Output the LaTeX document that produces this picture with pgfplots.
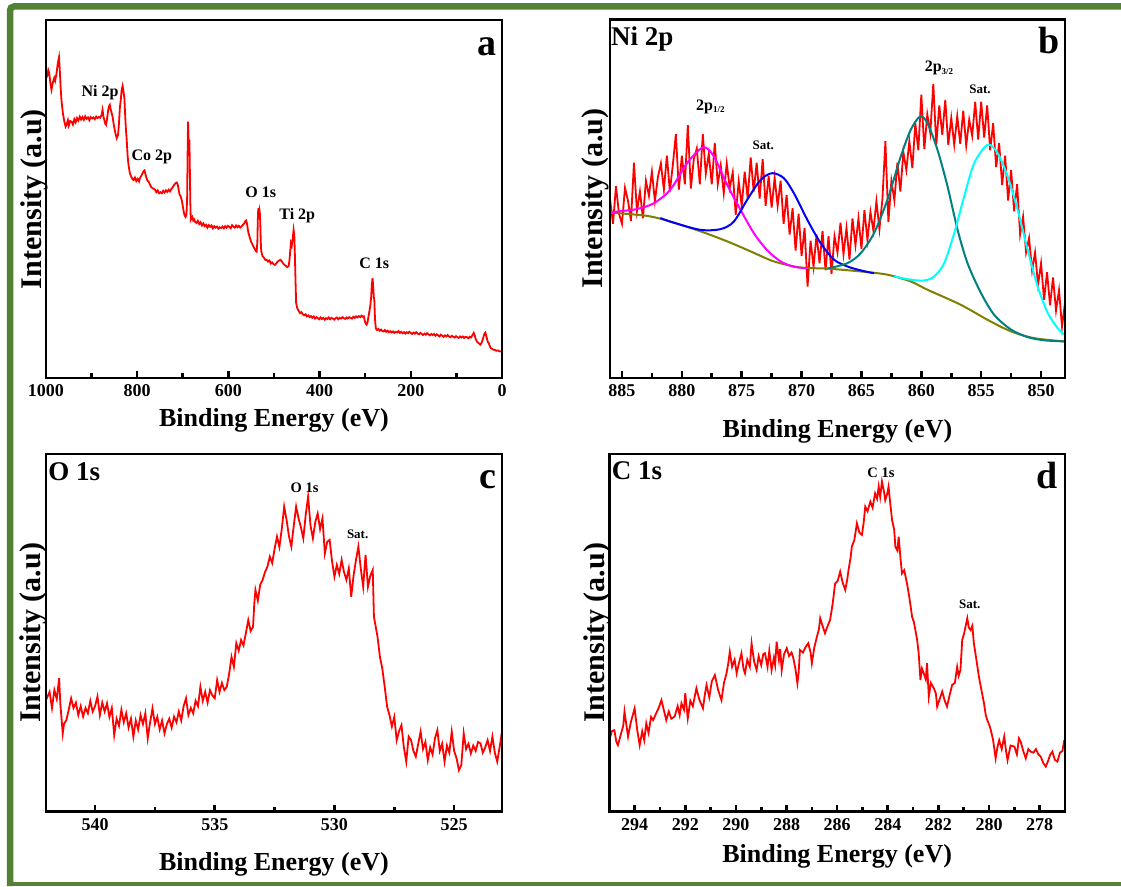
\documentclass[border=0pt]{standalone}
\usepackage{fontspec}
\setmainfont{Liberation Serif}
\usepackage{pgfplots}
\pgfplotsset{compat=1.18}
\definecolor{framegreen}{RGB}{84,130,53}
\definecolor{olivebg}{RGB}{128,128,0}
\definecolor{tealfit}{RGB}{0,128,128}
\definecolor{cyanfit}{RGB}{0,255,255}
\definecolor{magfit}{RGB}{255,0,255}
\definecolor{bluefit}{RGB}{0,0,255}
\definecolor{reddata}{RGB}{255,0,0}
\pgfplotsset{xps/.style={
  scale only axis, anchor=south west, x dir=reverse,
  ymin=0, ymax=100, ytick=\empty, xtick pos=left,
  axis line style={line width=2.7pt},
  major tick style={line width=2.6pt, black},
  minor tick style={line width=2.6pt, black},
  major tick length=7pt, minor tick length=4.5pt, tick align=inside,
  minor x tick num=1,
  xticklabel style={font=\bfseries\fontsize{18}{18}\selectfont, yshift=-3pt},
  /pgf/number format/assume math mode=true,
  /pgf/number format/1000 sep={},
  xlabel={Binding Energy (eV)}, ylabel={Intensity (a.u)},
  xlabel style={font=\bfseries\fontsize{26}{26}\selectfont, anchor=base},
  ylabel style={font=\bfseries\fontsize{30}{30}\selectfont, anchor=base},
  after end axis/.code={\draw[line width=2.7pt, black] (rel axis cs:0,0) rectangle (rel axis cs:1,1);},
}}
\begin{document}
\begin{tikzpicture}
\path[use as bounding box] (0pt,0pt) rectangle (1121pt,886pt);
\draw[framegreen, line width=6.5pt, rounded corners=4pt] (1125pt,879.5pt) -- (10pt,879.5pt) -- (10pt,0pt);
\draw[framegreen, line width=4pt] (7pt,2pt) -- (1125pt,2pt);

% ---------------- panel a
\begin{axis}[xps, at={(46pt,508pt)}, width=456pt, height=358pt, xmin=0, xmax=1000,
  xtick={0,200,...,1000},
  xlabel style={at={(axis description cs:0.5,-0.136)}},
  ylabel style={at={(axis description cs:-0.010,0.5)}}]
\addplot[reddata, no marks, line width=1.8pt] coordinates {
(1000,83.7)(997,84.5)(995,86.0)(993,85.2)(990,82.0)(988,80.5)(985,82.5)(982,83.8)(980,83.0)(977,85.0)(974,88.0)(971.5,89.6)(969.5,85.5)(968,81.4)(966,77.5)(963,74.0)(960,71.8)(957,70.2)(955,70.7)(952,72.0)(950,70.5)(947,71.8)(944,71.6)(941,70.8)(938,72.3)(935,71.4)(932,72.6)(929,71.9)(926,73.0)(923,72.2)(920,72.9)(917,72.1)(914,73.1)(911,72.4)(908,72.8)(905,72.0)(902,72.9)(899,72.5)(896,72.8)(893,72.3)(890,73.0)(887,72.6)(884,72.9)(881,72.7)(878,73.5)(876,74.9)(874,73.0)(872,72.0)(870,71.0)(868,70.7)(866,72.5)(864,74.5)(862,75.8)(860,76.3)(858,75.0)(856,74.0)(854,73.0)(851,70.5)(848,68.5)(845,67.0)(842,67.9)(840,71.0)(838,75.5)(836,77.7)(834,80.5)(832,81.6)(830,80.0)(828,78.0)(827,75.0)(825,70.0)(823,66.5)(821,62.0)(819,59.5)(816,57.2)(813,56.2)(810,55.5)(808,55.3)(805,56.0)(802,55.0)(799,55.6)(796,54.9)(794,55.8)(791,56.5)(788,57.2)(786,57.8)(784,58.0)(782,57.0)(780,56.0)(777,55.0)(775,54.9)(772,54.0)(769,53.3)(766,53.0)(763,52.8)(761,52.6)(758,51.9)(755,52.4)(752,51.6)(749,51.9)(746,51.6)(743,52.3)(740,51.8)(737,52.4)(734,52.0)(731,52.6)(728,52.1)(725,52.8)(722,53.3)(719,53.9)(716,54.4)(713,54.6)(711,54.0)(709,52.5)(707,51.2)(704.5,50.7)(702,49.5)(700,48.0)(698,46.5)(696,45.4)(694,45.0)(692,45.6)(690.5,50.0)(689.5,62.0)(688.5,71.6)(687.5,68.0)(686.5,63.0)(685.5,66.5)(684.5,58.0)(683.5,49.0)(682.5,44.2)(681,44.6)(679,45.0)(677,44.0)(675,44.3)(673,43.6)(670,43.3)(667,43.9)(664,43.0)(661,43.5)(658,42.6)(655,43.2)(652,42.4)(649,42.8)(646,42.0)(643,42.7)(640,42.2)(637,42.6)(634,41.8)(631,42.4)(628,42.0)(625,42.3)(622,41.7)(619,42.1)(616,41.9)(613,42.3)(610,41.8)(607,42.4)(604,42.0)(601,42.5)(598,42.2)(595,41.8)(592,42.7)(589,42.3)(586,42.0)(583,42.6)(580,42.1)(577,42.5)(574,42.0)(571,42.4)(568,42.8)(565,43.2)(563,43.8)(561,44.0)(559,43.0)(557,41.2)(556,40.5)(553,39.2)(550,38.0)(547,37.2)(545,36.7)(542,36.0)(540,35.5)(538,35.3)(536.5,38.0)(535.5,44.0)(534.5,47.4)(533.5,46.0)(532,47.0)(531,46.0)(530,43.0)(529,38.0)(528,35.5)(527,34.9)(525,34.0)(522,33.6)(519,33.0)(516,33.0)(513,32.5)(510,32.8)(507,32.0)(504,32.3)(501,31.8)(498,31.6)(495,32.0)(492,32.5)(489,32.8)(486,33.0)(483,32.6)(480,32.0)(477,31.6)(474,31.3)(471,31.0)(468,31.2)(466,33.0)(464,36.0)(463,37.7)(461,37.0)(459,39.0)(457,41.4)(455.5,40.0)(454.3,34.9)(453,28.0)(452,23.5)(451.4,20.9)(449,19.5)(446,18.8)(443,18.1)(440,18.4)(437,17.8)(434,17.5)(431,17.8)(428,17.2)(425,17.5)(422,17.0)(419,17.3)(416,16.8)(413,17.2)(410,16.6)(407,17.0)(404,16.7)(401,16.4)(398,16.9)(395,16.5)(392,16.8)(389,16.3)(386,16.7)(383,16.5)(380,16.9)(377,16.4)(374,16.8)(371,16.6)(368,16.3)(365,16.7)(362,16.9)(359,16.4)(356,16.8)(353,16.6)(350,17.0)(347,16.7)(344,16.5)(341,16.9)(338,16.6)(335,17.0)(332,16.8)(329,16.6)(326,17.1)(323,16.8)(320,17.2)(317,16.9)(314,17.3)(311,17.0)(308,17.4)(305,17.1)(303,17.2)(301,16.0)(299,15.2)(297,14.9)(295,15.5)(293,17.0)(291,18.5)(289,20.0)(287,22.5)(285.5,26.0)(284,27.9)(283,26.5)(282,24.5)(281,22.5)(280,21.9)(279,18.0)(278,15.5)(276.5,13.8)(274,13.4)(271,13.7)(268,13.2)(265,13.5)(262,13.1)(259.7,13.0)(257,13.4)(254,12.9)(251,13.2)(248,12.8)(245,13.1)(242,12.7)(239,13.0)(236,12.6)(233,12.9)(230,12.7)(227,13.1)(224,12.6)(221,12.9)(218,12.5)(215,12.8)(212,12.4)(209,12.8)(206,12.5)(203,12.9)(200,12.6)(197,12.3)(194,12.7)(191,12.4)(188,12.8)(185,12.4)(182,12.2)(179,12.6)(176,12.3)(173,12.0)(170,12.4)(167,12.1)(164,12.5)(161,12.2)(158,11.9)(155,12.3)(152,12.0)(149,12.3)(146,11.8)(143,12.2)(140,11.9)(137,11.6)(134,12.1)(131,11.8)(128,11.5)(125,11.9)(122,11.6)(119,12.0)(116,11.6)(113,11.4)(110,11.8)(107,11.5)(104,11.3)(101,11.7)(98,11.4)(95,11.2)(92,11.6)(89,11.3)(86,11.6)(83,11.2)(80,11.5)(77,11.4)(74,11.1)(71,11.5)(68,11.3)(65,11.9)(62,12.6)(60,12.0)(58,11.0)(55,10.2)(52,9.8)(49,9.5)(47.6,9.3)(45,9.8)(42,10.8)(40,11.8)(38,12.5)(36.6,12.7)(35,12.0)(33,11.0)(31,10.0)(29.3,9.8)(27,9.0)(25,8.4)(22,8.2)(20,8.0)(18.3,7.9)(15,7.8)(12,7.6)(9,7.7)(6,7.5)(3,7.4)(0,7.4)
};
\node[font=\bfseries\fontsize{16}{16}\selectfont, anchor=base] at (axis cs:881.5,78.6) {Ni 2p};
\node[font=\bfseries\fontsize{16}{16}\selectfont, anchor=base] at (axis cs:768,60.7) {Co 2p};
\node[font=\bfseries\fontsize{16}{16}\selectfont, anchor=base] at (axis cs:529,50.5) {O 1s};
\node[font=\bfseries\fontsize{16}{16}\selectfont, anchor=base] at (axis cs:449,44.2) {Ti 2p};
\node[font=\bfseries\fontsize{16}{16}\selectfont, anchor=base] at (axis cs:280,30.7) {C 1s};
\node[font=\bfseries\fontsize{38}{38}\selectfont, anchor=base east, inner sep=0pt] at (rel axis cs:0.989,0.902) {a};
\end{axis}

% ---------------- panel b
\begin{axis}[xps, at={(610pt,508pt)}, width=455pt, height=358.7pt, xmin=848, xmax=886,
  xtick={850,855,...,885},
  xlabel style={at={(axis description cs:0.5,-0.167)}},
  ylabel style={at={(axis description cs:-0.016,0.5)}}]
\addplot[reddata, no marks, line width=1.8pt] coordinates {
(886.00,50)(885.75,43)(885.50,53.5)(885.25,45.8)(885.00,43)(884.75,53)(884.50,49.5)(884.25,43.8)(884.00,60)(883.75,46.5)(883.50,52)(883.25,44.5)(883.00,55)(882.75,50.8)(882.50,57.5)(882.25,49.3)(882.00,56)(881.75,59.8)(881.50,52.5)(881.25,62)(881.00,52)(880.75,59.5)(880.50,68)(880.25,52.5)(880.00,62)(879.75,54)(879.50,70.5)(879.25,52.8)(879.00,61)(878.75,64)(878.50,54)(878.25,68)(878.00,57)(877.75,62.5)(877.50,54)(877.25,65.5)(877.00,54)(876.75,59.3)(876.50,51.5)(876.25,59.8)(876.00,53)(875.75,57.3)(875.50,45.5)(875.25,54.8)(875.00,48)(874.75,57.5)(874.50,50)(874.25,61.5)(874.00,52)(873.75,60)(873.50,50)(873.25,61)(873.00,48)(872.75,56.3)(872.50,47.5)(872.25,55.8)(872.00,48)(871.75,55)(871.50,43)(871.25,51)(871.00,40)(870.75,47.3)(870.50,35.5)(870.25,45.8)(870.00,34)(869.75,41.8)(869.50,25.5)(869.25,38.3)(869.00,31)(868.75,40)(868.50,32)(868.25,41)(868.00,30)(867.75,39.5)(867.50,29)(867.25,39.5)(867.00,35)(866.75,43.3)(866.50,34.5)(866.25,41.8)(866.00,33)(865.75,44.5)(865.50,37)(865.25,44.5)(865.00,36)(864.75,46.8)(864.50,38.5)(864.25,46.3)(864.00,41)(863.75,49.3)(863.50,41.5)(863.25,49.8)(863.00,66)(862.75,43.5)(862.50,55)(862.25,49.5)(862.00,60)(861.75,52)(861.50,63)(861.25,58)(861.00,66)(860.75,58.5)(860.50,71)(860.25,63.5)(860.00,79)(859.75,63.8)(859.50,73.5)(859.25,68.3)(859.00,82)(858.75,65)(858.50,76)(858.25,67.8)(858.00,77.5)(857.75,65)(857.50,72.5)(857.25,65)(857.00,73)(856.75,65.3)(856.50,74.5)(856.25,64.8)(856.00,72)(855.75,67.5)(855.50,77)(855.25,66.5)(855.00,77)(854.75,67)(854.50,76)(854.25,63.5)(854.00,71)(853.75,58.8)(853.50,65.5)(853.25,53.8)(853.00,62)(852.75,49.5)(852.50,58)(852.25,46.5)(852.00,54)(851.75,40)(851.50,45)(851.25,35)(851.00,39)(850.75,30)(850.50,35)(850.25,26)(850.00,32)(849.75,21.8)(849.50,29.5)(849.25,20.3)(849.00,28)(848.75,18.8)(848.50,24.5)(848.25,14.3)(848.00,21)
};
\addplot[olivebg, no marks, smooth, line width=2pt] coordinates {
(885.98,46.1)(882.91,45.2)(880.96,43.6)(878.45,40.9)(876.22,38.1)(874.26,35.3)(872.31,32.5)(870.08,30.8)(867.85,30.5)(865.06,29.7)(862.83,28.8)(860.88,26.9)(859.48,24.6)(856.70,20.4)(854.46,16.2)(852.51,13.0)(850.56,11.1)(848.05,10.2)
};
\addplot[magfit, no marks, smooth, line width=2pt] coordinates {
(885.98,46.1)(885.4,46.4)(883.75,47.1)(882.35,48.7)(880.96,52.5)(879.56,59.9)(878.22,64.3)(877.33,61.8)(876.22,53.9)(875.10,46.9)(873.99,40.4)(872.87,35.6)(871.75,32.5)(870.64,31.0)(869.5,30.6)
};
\addplot[bluefit, no marks, smooth, line width=2pt] coordinates {
(881.8,44.6)(880.68,43.3)(878.45,41.3)(876.77,41.5)(875.66,43.6)(874.54,49.7)(873.43,55.2)(872.45,57.1)(871.48,55.7)(870.64,51.5)(869.52,44.1)(868.41,37.6)(867.29,33.0)(866.18,31.1)(865.06,30.0)(863.95,29.2)
};
\addplot[tealfit, no marks, smooth, line width=2pt] coordinates {
(867.85,30.5)(866.18,32.0)(865.06,34.8)(863.95,40.4)(862.83,49.7)(861.72,61.7)(860.88,69.2)(860.10,72.9)(859.48,71.0)(858.65,63.6)(857.81,53.4)(856.97,41.3)(856.14,32.0)(855.02,23.7)(853.91,17.6)(852.51,13.5)(851.12,11.4)(849.72,10.5)(848.05,10.2)
};
\addplot[cyanfit, no marks, smooth, line width=2pt] coordinates {
(862.27,28.3)(860.88,27.4)(859.76,27.2)(858.93,28.3)(858.09,32.0)(857.25,40.4)(856.42,50.6)(855.58,59.9)(854.46,65.0)(853.63,62.7)(852.79,56.2)(851.96,46.9)(851.12,35.7)(850.28,25.5)(849.44,18.1)(848.61,13.9)(848.05,12.1)
};
\node[font=\bfseries\fontsize{16}{16}\selectfont, anchor=base] at (axis cs:877.6,74.7) {2p\textsubscript{\fontsize{9}{9}\selectfont 1/2}};
\node[font=\bfseries\fontsize{13}{13}\selectfont, anchor=base] at (axis cs:873.2,63.6) {Sat.};
\node[font=\bfseries\fontsize{16}{16}\selectfont, anchor=base] at (axis cs:858.5,85.4) {2p\textsubscript{\fontsize{9}{9}\selectfont 3/2}};
\node[font=\bfseries\fontsize{13}{13}\selectfont, anchor=base] at (axis cs:855.1,79.2) {Sat.};
\node[font=\bfseries\fontsize{27}{27}\selectfont, anchor=base west, inner sep=0pt] at (rel axis cs:0.002,0.928) {Ni 2p};
\node[font=\bfseries\fontsize{38}{38}\selectfont, anchor=base east, inner sep=0pt] at (rel axis cs:0.989,0.905) {b};
\end{axis}

% ---------------- panel c
\begin{axis}[xps, at={(46pt,74.3pt)}, width=456pt, height=357.7pt, xmin=523, xmax=542.05,
  xtick={525,530,535,540},
  xlabel style={at={(axis description cs:0.5,-0.163)}},
  ylabel style={at={(axis description cs:-0.012,0.5)}}]
\addplot[reddata, no marks, line width=1.8pt] coordinates {
(542.05,31.2)(541.9,33.5)(541.8,29.0)(541.7,34.0)(541.6,31.5)(541.5,37.3)(541.45,30.0)(541.4,26.0)(541.35,21.9)(541.3,24.5)(541.2,25.6)(541.1,28.5)(541.0,31.7)(540.9,29.0)(540.8,30.5)(540.7,27.0)(540.6,29.5)(540.5,26.6)(540.4,29.0)(540.3,27.5)(540.2,31.0)(540.1,28.0)(540.0,29.5)(539.9,32.2)(539.8,27.0)(539.7,30.5)(539.6,28.0)(539.5,30.3)(539.4,26.5)(539.3,29.0)(539.2,21.4)(539.1,26.0)(539.0,24.0)(538.9,28.5)(538.8,25.0)(538.7,27.5)(538.6,23.5)(538.5,26.0)(538.4,21.0)(538.3,25.5)(538.2,23.0)(538.1,27.0)(538.0,24.5)(537.9,27.5)(537.8,20.5)(537.7,25.0)(537.6,28.9)(537.5,24.5)(537.4,26.5)(537.3,23.0)(537.2,25.5)(537.1,21.9)(537.0,24.5)(536.9,26.0)(536.8,23.5)(536.7,26.6)(536.6,25.0)(536.5,28.0)(536.4,25.5)(536.3,29.5)(536.2,31.7)(536.1,27.0)(536.0,29.0)(535.9,27.5)(535.8,31.0)(535.7,29.5)(535.6,34.9)(535.5,31.0)(535.4,33.5)(535.3,30.5)(535.2,34.0)(535.1,32.5)(535.0,31.7)(534.9,36.8)(534.8,33.5)(534.7,36.0)(534.6,34.0)(534.5,34.9)(534.4,38.5)(534.3,43.3)(534.2,40.5)(534.1,47.1)(534.0,45.0)(533.9,48.0)(533.8,46.5)(533.7,49.9)(533.6,53.6)(533.5,50.5)(533.4,51.7)(533.35,58.0)(533.3,62.0)(533.2,59.0)(533.1,63.5)(533.0,64.8)(532.9,67.0)(532.8,68.5)(532.7,71.3)(532.6,69.5)(532.5,73.5)(532.4,76.9)(532.3,74.0)(532.2,79.0)(532.1,85.3)(532.0,81.6)(531.9,77.0)(531.8,74.1)(531.7,80.0)(531.6,85.3)(531.5,82.0)(531.4,79.5)(531.3,76.4)(531.2,83.0)(531.1,88.1)(531.0,80.0)(530.9,76.4)(530.8,81.0)(530.7,83.4)(530.6,79.0)(530.5,82.0)(530.4,72.2)(530.3,75.5)(530.2,76.0)(530.1,70.0)(530.0,65.7)(529.9,69.0)(529.8,66.5)(529.7,70.4)(529.6,67.0)(529.5,64.8)(529.4,68.0)(529.3,60.1)(529.2,66.0)(529.1,70.4)(529.0,74.1)(528.9,68.0)(528.8,62.9)(528.7,71.8)(528.6,62.9)(528.5,66.0)(528.4,67.6)(528.35,54.5)(528.2,48.9)(528.1,43.3)(528.0,40.0)(527.9,34.9)(527.8,29.4)(527.7,27.0)(527.6,23.8)(527.5,26.5)(527.4,20.0)(527.3,22.5)(527.2,24.2)(527.1,18.0)(527.0,14.0)(526.9,21.0)(526.8,20.0)(526.7,17.0)(526.6,15.4)(526.5,19.0)(526.4,22.4)(526.3,17.5)(526.2,19.5)(526.1,14.4)(526.0,18.0)(525.9,16.0)(525.8,20.5)(525.7,22.8)(525.6,17.0)(525.5,19.0)(525.4,14.0)(525.3,18.5)(525.2,16.5)(525.1,22.4)(525.0,17.0)(524.9,15.0)(524.8,11.6)(524.7,13.0)(524.6,21.9)(524.5,17.5)(524.4,19.0)(524.3,16.3)(524.2,18.5)(524.1,17.0)(524.0,19.5)(523.9,19.1)(523.8,16.5)(523.7,18.0)(523.6,20.0)(523.5,17.0)(523.4,21.0)(523.3,16.5)(523.2,14.0)(523.1,18.0)(523.0,22.4)
};
\node[font=\bfseries\fontsize{14.5}{14.5}\selectfont, anchor=base] at (axis cs:531.25,89.3) {O 1s};
\node[font=\bfseries\fontsize{13}{13}\selectfont, anchor=base] at (axis cs:529.03,76.4) {Sat.};
\node[font=\bfseries\fontsize{27}{27}\selectfont, anchor=base west, inner sep=0pt] at (rel axis cs:0.005,0.927) {O 1s};
\node[font=\bfseries\fontsize{38}{38}\selectfont, anchor=base east, inner sep=0pt] at (rel axis cs:0.989,0.904) {c};
\end{axis}

% ---------------- panel d
\begin{axis}[xps, at={(609.3pt,74.3pt)}, width=455.7pt, height=357.7pt, xmin=277, xmax=295,
  xtick={278,280,...,294},
  xlabel style={at={(axis description cs:0.5,-0.143)}},
  ylabel style={at={(axis description cs:-0.011,0.5)}}]
\addplot[reddata, no marks, line width=1.8pt] coordinates {
(295.0,20.0)(294.9,22.5)(294.8,22.8)(294.72,19.5)(294.66,18.6)(294.55,21.5)(294.45,24.0)(294.4,28.0)(294.33,24.5)(294.26,21.0)(294.15,25.0)(294.0,28.9)(293.9,23.0)(293.8,18.6)(293.7,22.5)(293.62,20.0)(293.54,24.7)(293.45,22.0)(293.35,26.5)(293.27,25.6)(293.15,27.5)(293.05,29.0)(292.94,31.2)(292.85,28.5)(292.75,25.6)(292.65,28.0)(292.55,26.0)(292.42,26.6)(292.3,29.5)(292.22,27.0)(292.15,30.3)(292.05,28.5)(292.0,33.1)(291.9,26.1)(291.8,31.0)(291.7,29.5)(291.56,34.5)(291.45,31.5)(291.3,28.9)(291.22,33.0)(291.16,35.4)(291.05,32.0)(290.95,36.5)(290.83,38.2)(290.7,34.0)(290.57,31.2)(290.47,36.0)(290.37,38.7)(290.3,41.5)(290.24,44.7)(290.15,40.5)(290.05,42.5)(289.97,38.7)(289.88,41.5)(289.78,44.3)(289.7,40.0)(289.64,38.7)(289.55,42.5)(289.45,40.5)(289.38,47.1)(289.28,42.0)(289.18,39.6)(289.1,43.5)(289.0,41.0)(288.92,44.0)(288.85,44.3)(288.75,40.5)(288.68,45.0)(288.59,39.6)(288.5,43.0)(288.45,41.0)(288.39,47.5)(288.3,42.5)(288.25,45.5)(288.19,39.6)(288.1,44.0)(287.99,45.7)(287.9,43.5)(287.8,44.5)(287.73,42.9)(287.65,40.0)(287.57,35.9)(287.52,39.0)(287.47,45.2)(287.35,44.5)(287.25,46.0)(287.14,47.1)(287.05,44.5)(287.0,41.5)(286.9,46.0)(286.8,48.9)(286.72,51.0)(286.67,54.1)(286.58,52.0)(286.48,49.9)(286.4,51.5)(286.28,53.6)(286.18,58.0)(286.08,63.8)(285.98,64.5)(285.88,67.1)(285.78,64.0)(285.68,62.0)(285.6,65.0)(285.55,67.6)(285.47,71.0)(285.42,74.1)(285.32,76.0)(285.22,80.6)(285.12,78.0)(285.02,77.4)(284.95,81.0)(284.89,85.3)(284.8,84.0)(284.69,86.7)(284.6,85.0)(284.5,89.0)(284.42,87.5)(284.36,90.9)(284.3,88.0)(284.23,92.3)(284.15,89.5)(284.1,87.1)(284.02,89.0)(283.97,90.9)(283.9,86.0)(283.83,81.5)(283.75,79.0)(283.7,74.1)(283.62,73.0)(283.57,76.9)(283.5,71.0)(283.44,66.6)(283.35,67.5)(283.24,63.8)(283.15,60.0)(283.04,54.5)(282.97,53.0)(282.91,50.8)(282.84,48.0)(282.78,44.3)(282.71,36.8)(282.65,40.0)(282.58,38.7)(282.5,37.0)(282.45,41.5)(282.38,32.2)(282.3,36.0)(282.18,34.5)(282.1,33.0)(282.05,29.4)(281.95,31.5)(281.85,33.6)(281.75,31.0)(281.66,29.4)(281.56,32.5)(281.46,35.4)(281.35,36.0)(281.26,40.5)(281.2,38.0)(281.13,39.6)(281.06,48.0)(280.98,50.0)(280.93,51.7)(280.86,54.1)(280.8,51.5)(280.73,50.8)(280.66,52.0)(280.6,47.1)(280.5,42.5)(280.4,37.7)(280.3,34.0)(280.2,30.3)(280.13,27.0)(280.07,25.6)(279.98,24.0)(279.93,22.8)(279.84,20.0)(279.74,14.9)(279.67,18.0)(279.6,20.0)(279.5,17.5)(279.4,21.0)(279.33,17.0)(279.27,14.4)(279.15,18.5)(279.0,18.2)(278.9,16.0)(278.82,20.5)(278.75,19.6)(278.65,17.0)(278.55,14.9)(278.45,17.5)(278.36,16.8)(278.25,16.5)(278.15,17.5)(278.05,16.0)(277.96,15.4)(277.85,13.5)(277.76,12.6)(277.68,14.0)(277.58,16.0)(277.5,16.8)(277.4,14.5)(277.3,14.0)(277.2,16.5)(277.1,17.0)(277.03,20.0)
};
\node[font=\bfseries\fontsize{14.5}{14.5}\selectfont, anchor=base] at (axis cs:284.27,93.5) {C 1s};
\node[font=\bfseries\fontsize{13}{13}\selectfont, anchor=base] at (axis cs:280.76,56.9) {Sat.};
\node[font=\bfseries\fontsize{27}{27}\selectfont, anchor=base west, inner sep=0pt] at (rel axis cs:0.005,0.929) {C 1s};
\node[font=\bfseries\fontsize{38}{38}\selectfont, anchor=base east, inner sep=0pt] at (rel axis cs:0.985,0.904) {d};
\end{axis}
\end{tikzpicture}
\end{document}
